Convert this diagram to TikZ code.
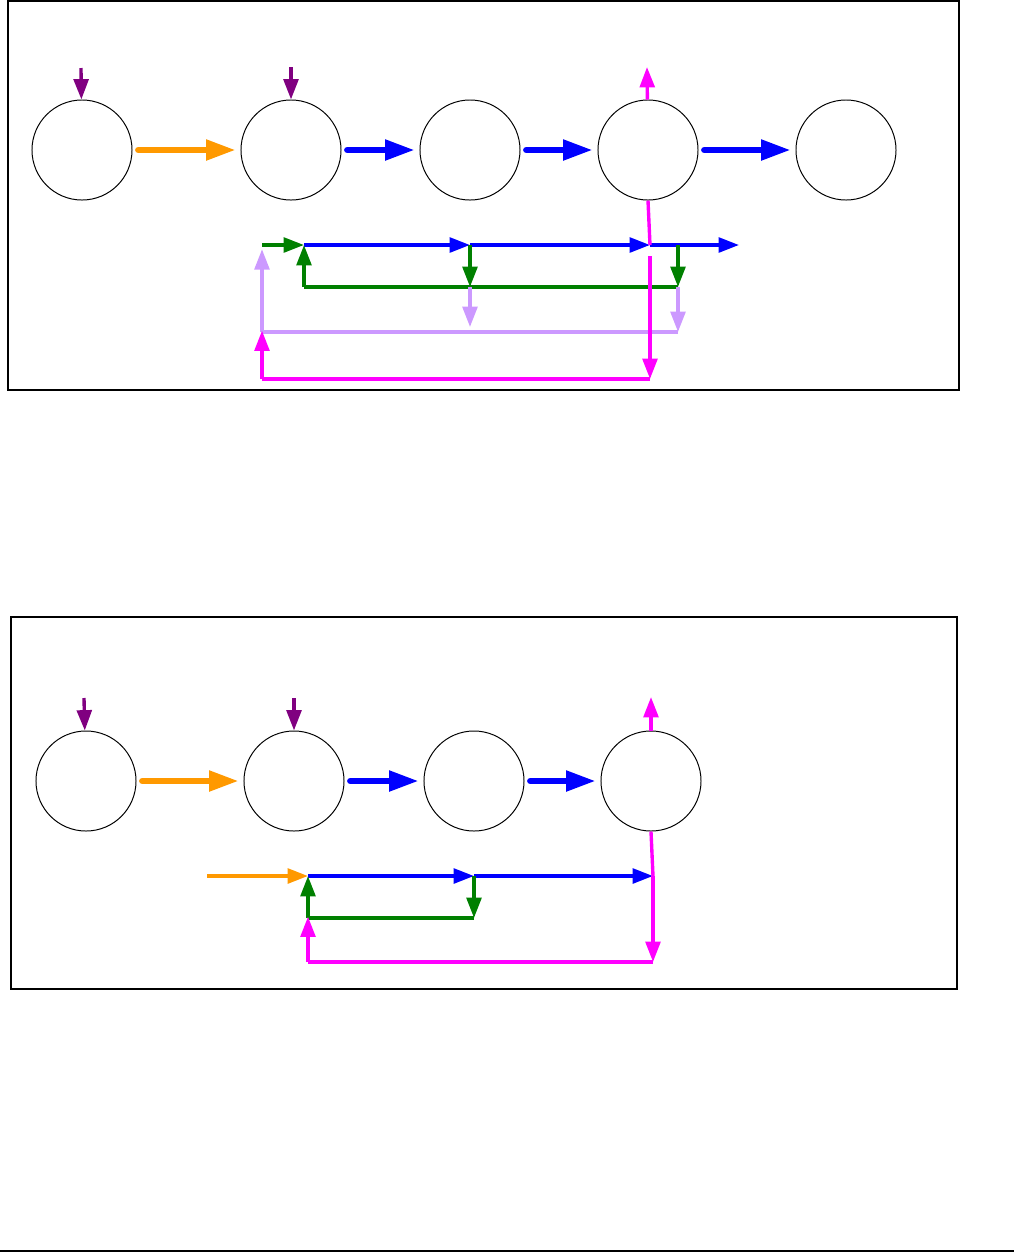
\documentclass[tikz,border=0pt]{standalone}
\usepackage{tikz}
\usetikzlibrary{arrows.meta,positioning}
\usepackage{xcolor}
\definecolor{flowor}{RGB}{255,153,0}
\definecolor{fbgreen}{RGB}{0,128,0}
\definecolor{lavend}{RGB}{204,153,255}
\definecolor{mag}{RGB}{255,0,255}
\definecolor{purp}{RGB}{128,0,128}

\begin{document}
\begin{tikzpicture}[
    x=0.025cm, y=-0.025cm,
    cell/.style={draw, circle, minimum size=2.5cm, inner sep=0pt,
                 line width=0.7pt},
    big/.style={-{Triangle[length=21pt,width=14pt]}, line width=4.3pt,
                line cap=round, shorten <=4pt, shorten >=3.5pt},
    arr/.style={-{Triangle[length=14.5pt,width=10.5pt]}, line width=2.4pt},
    wire/.style={line width=2.4pt},
    frame/.style={draw, line width=1pt}
  ]
  \useasboundingbox (0,0) rectangle (1014,1252);

  %% --- Top panel ---
  \draw[frame] (8,1) rectangle (959,390);
  % Cells
  \node[cell] (c1t) at (82,  150) {};
  \node[cell] (c2t) at (291, 150) {};
  \node[cell] (c3t) at (470, 150) {};
  \node[cell] (c4t) at (648, 150) {};
  \node[cell] (c5t) at (846, 150) {};
  % Inputs and output
  \coordinate (p1t) at (81, 68);
  \coordinate (p2t) at (291, 67);
  \coordinate (o4t) at (647, 67);
  \draw[arr, purp] (p1t) -- (c1t);
  \draw[arr, purp] (p2t) -- (c2t);
  \draw[arr, mag]  (c4t) -- (o4t);
  % Chain
  \draw[big, flowor] (c1t) -- (c2t);
  \draw[big, blue]   (c2t) -- (c3t);
  \draw[big, blue]   (c3t) -- (c4t);
  \draw[big, blue]   (c4t) -- (c5t);
  % Lower network
  \coordinate (s0t) at (262, 245);
  \coordinate (j1t) at (304, 245);
  \coordinate (j2t) at (470, 245);
  \coordinate (j3t) at (650, 245);
  \coordinate (g3t) at (678, 245);
  \coordinate (e3t) at (739, 245);
  \coordinate (b1t) at (304, 287);
  \coordinate (b2t) at (470, 287);
  \coordinate (b3t) at (678, 287);
  \coordinate (l2t) at (470, 327);
  \coordinate (l3t) at (678, 332);
  \coordinate (l0t) at (262, 332);
  \coordinate (mgt) at (650, 256);
  \coordinate (m3t) at (650, 379);
  \coordinate (m0t) at (262, 379);
  \draw[arr, fbgreen] (s0t) -- (j1t);
  \draw[arr, blue] (j1t) -- (j2t);
  \draw[arr, blue] (j2t) -- (j3t);
  \draw[arr, blue] (j3t) -- (e3t);
  % Green feedback
  \draw[arr, fbgreen] (j2t) -- (b2t);
  \draw[arr, fbgreen] (g3t) -- (b3t);
  \draw[wire, fbgreen] (b3t) -- (b1t);
  \draw[arr, fbgreen] (b1t) -- (j1t);
  % Lavender feedback
  \draw[arr, lavend] (b2t) -- (l2t);
  \draw[arr, lavend] (b3t) -- (l3t);
  \draw[wire, lavend] (l3t) -- (l0t);
  \draw[arr, lavend] (l0t) -- ([yshift=-3]s0t);
  % Magenta feedback
  \draw[wire, mag] (c4t.south) -- (j3t);
  \draw[arr, mag] (mgt) -- (m3t);
  \draw[wire, mag] (m3t) -- (m0t);
  \draw[arr, mag] (m0t) -- ([yshift=1]l0t);

  %% --- Bottom panel ---
  \draw[frame] (11,617) rectangle (957,989);
  % Cells
  \node[cell] (c1b) at (86,  781) {};
  \node[cell] (c2b) at (294, 781) {};
  \node[cell] (c3b) at (474, 781) {};
  \node[cell] (c4b) at (651, 781) {};
  % Inputs and output
  \coordinate (p1b) at (84, 698);
  \coordinate (p2b) at (294, 698);
  \coordinate (o4b) at (651, 697);
  \draw[arr, purp] (p1b) -- (c1b);
  \draw[arr, purp] (p2b) -- (c2b);
  \draw[arr, mag]  (c4b) -- (o4b);
  % Chain
  \draw[big, flowor] (c1b) -- (c2b);
  \draw[big, blue]   (c2b) -- (c3b);
  \draw[big, blue]   (c3b) -- (c4b);
  % Lower network
  \coordinate (s0b) at (207, 876);
  \coordinate (j1b) at (308, 876);
  \coordinate (j2b) at (474, 876);
  \coordinate (j3b) at (653, 876);
  \coordinate (b1b) at (308, 918);
  \coordinate (b2b) at (474, 918);
  \coordinate (m3b) at (653, 962);
  \coordinate (m0b) at (308, 962);
  \draw[arr, flowor] (s0b) -- (j1b);
  \draw[arr, blue] (j1b) -- (j2b);
  \draw[arr, blue] (j2b) -- (j3b);
  % Green feedback
  \draw[arr, fbgreen] (j2b) -- (b2b);
  \draw[wire, fbgreen] (b2b) -- (b1b);
  \draw[arr, fbgreen] (b1b) -- (j1b);
  % Magenta feedback
  \draw[wire, mag] (c4b.south) -- (j3b);
  \draw[arr, mag] (j3b) -- (m3b);
  \draw[wire, mag] (m3b) -- (m0b);
  \draw[arr, mag] (m0b) -- ([yshift=1]b1b);

  % Page rule
  \draw[line width=1pt] (0,1251) -- (1014,1251);
\end{tikzpicture}
\end{document}
